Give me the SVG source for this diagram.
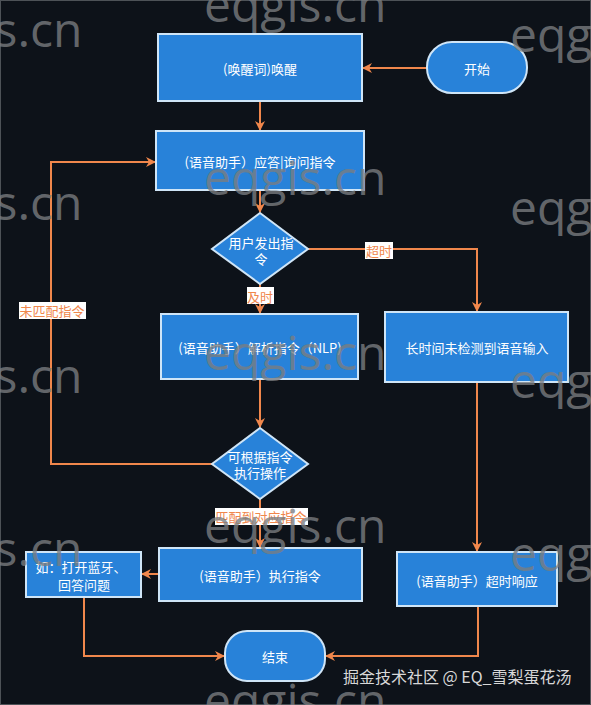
<svg xmlns="http://www.w3.org/2000/svg" width="591" height="705" viewBox="0 0 591 705">
<style>
.bg{fill:#0d1219}
.node{fill:#2882d9;stroke:#cfe5f7;stroke-width:2}
.t{font-family:"Noto Sans CJK SC","Liberation Sans",sans-serif;font-size:13px;fill:#ffffff;text-anchor:middle;dominant-baseline:central}
.edge{fill:none;stroke:#f0874c;stroke-width:2}
.lblbg{fill:#ffffff}
.lbl{font-family:"Noto Sans CJK SC","Liberation Sans",sans-serif;font-size:13px;fill:#f0874c;text-anchor:middle;dominant-baseline:central}
.wm{font-family:"Open Sans","Liberation Sans",sans-serif;font-size:48px;fill:#7a7d80;fill-opacity:0.8}
.sig{font-family:"Noto Sans CJK SC","Liberation Sans",sans-serif;font-size:16px;fill:#d8d8d8}
</style>
<defs>
<marker id="arr" viewBox="0 0 10 10" refX="9" refY="5" markerWidth="11" markerHeight="10" orient="auto" markerUnits="userSpaceOnUse">
<path d="M0,0 L10,5 L0,10 L3,5 z" fill="#f0874c"/>
</marker>
</defs>
<rect class="bg" x="0" y="0" width="591" height="705"/>
<rect x="0.5" y="0.5" width="590" height="704" fill="none" stroke="#4d5257" stroke-width="1"/>

<g id="connectors">
<path class="edge" d="M427,68 L363,68" marker-end="url(#arr)"/>
<path class="edge" d="M260,101 L260,130" marker-end="url(#arr)"/>
<path class="edge" d="M260,190 L260,212" marker-end="url(#arr)"/>
<path class="edge" d="M260,284 L260,313" marker-end="url(#arr)"/>
<path class="edge" d="M308,249 L477,249 L477,311" marker-end="url(#arr)"/>
<path class="edge" d="M260,379 L260,427" marker-end="url(#arr)"/>
<path class="edge" d="M212,464 L51,464 L51,162 L155,162" marker-end="url(#arr)"/>
<path class="edge" d="M260,499 L260,547" marker-end="url(#arr)"/>
<path class="edge" d="M159,574 L142,574" marker-end="url(#arr)"/>
<path class="edge" d="M477,382 L477,551" marker-end="url(#arr)"/>
<path class="edge" d="M84,597 L84,656 L224,656" marker-end="url(#arr)"/>
<path class="edge" d="M478,606 L478,656 L326,656" marker-end="url(#arr)"/>
<g id="edge-labels">
<rect class="lblbg" x="365" y="242" width="28" height="17"/>
<text class="lbl" x="379" y="250">超时</text>
<rect class="lblbg" x="247" y="287" width="27" height="17"/>
<text class="lbl" x="260" y="296">及时</text>
<rect class="lblbg" x="19" y="302" width="67" height="17"/>
<text class="lbl" x="52" y="310">未匹配指令</text>
<rect class="lblbg" x="215" y="508" width="93" height="17"/>
<text class="lbl" x="261" y="516">匹配到对应指令</text>
</g>
</g>

<g id="n-wake">
<rect class="node" x="158" y="34" width="204" height="67"/>
<text class="t" x="260" y="68">(唤醒词)唤醒</text>
</g>
<g id="n-start">
<rect class="node" x="427" y="42" width="100" height="51" rx="25" ry="25"/>
<text class="t" x="477" y="68">开始</text>
</g>
<g id="n-respond">
<rect class="node" x="156" y="131" width="208" height="59"/>
<text class="t" x="260" y="161">(语音助手）应答|询问指令</text>
</g>
<g id="n-user">
<polygon class="node" points="260,213 308,249 260,284 212,249"/>
<text class="t" x="261" y="242">用户发出指</text>
<text class="t" x="261" y="258">令</text>
</g>
<g id="n-parse">
<rect class="node" x="161" y="314" width="197" height="65"/>
<text class="t" x="260" y="347">(语音助手）解析指令（NLP)</text>
</g>
<g id="n-nosound">
<rect class="node" x="385" y="312" width="183" height="70"/>
<text class="t" x="477" y="347">长时间未检测到语音输入</text>
</g>
<g id="n-can">
<polygon class="node" points="260,428 308,464 260,499 212,464"/>
<text class="t" x="260" y="456">可根据指令</text>
<text class="t" x="260" y="472">执行操作</text>
</g>
<g id="n-exec">
<rect class="node" x="159" y="548" width="203" height="53"/>
<text class="t" x="260" y="575">(语音助手）执行指令</text>
</g>
<g id="n-example">
<rect class="node" x="26" y="552" width="115" height="45"/>
<text class="t" x="81" y="566">如：打开蓝牙、</text>
<text class="t" x="84" y="584">回答问题</text>
</g>
<g id="n-timeout">
<rect class="node" x="397" y="552" width="160" height="54"/>
<text class="t" x="477" y="580">(语音助手）超时响应</text>
</g>
<g id="n-end">
<rect class="node" x="225" y="631" width="100" height="50" rx="22" ry="22"/>
<text class="t" x="275" y="656">结束</text>
</g>

<g id="watermarks">
<text class="wm" x="204" y="22">eqgis.cn</text>
<text class="wm" x="-100" y="47">eqgis.cn</text>
<text class="wm" x="510" y="52">eqgis.cn</text>
<text class="wm" x="204" y="195">eqgis.cn</text>
<text class="wm" x="-100" y="220">eqgis.cn</text>
<text class="wm" x="510" y="225">eqgis.cn</text>
<text class="wm" x="204" y="370">eqgis.cn</text>
<text class="wm" x="-100" y="393">eqgis.cn</text>
<text class="wm" x="510" y="398">eqgis.cn</text>
<text class="wm" x="204" y="543">eqgis.cn</text>
<text class="wm" x="-100" y="566">eqgis.cn</text>
<text class="wm" x="510" y="571">eqgis.cn</text>
<text class="wm" x="204" y="718">eqgis.cn</text>
<text class="sig" x="343" y="683">掘金技术社区 @ EQ_雪梨蛋花汤</text>
</g>
</svg>
